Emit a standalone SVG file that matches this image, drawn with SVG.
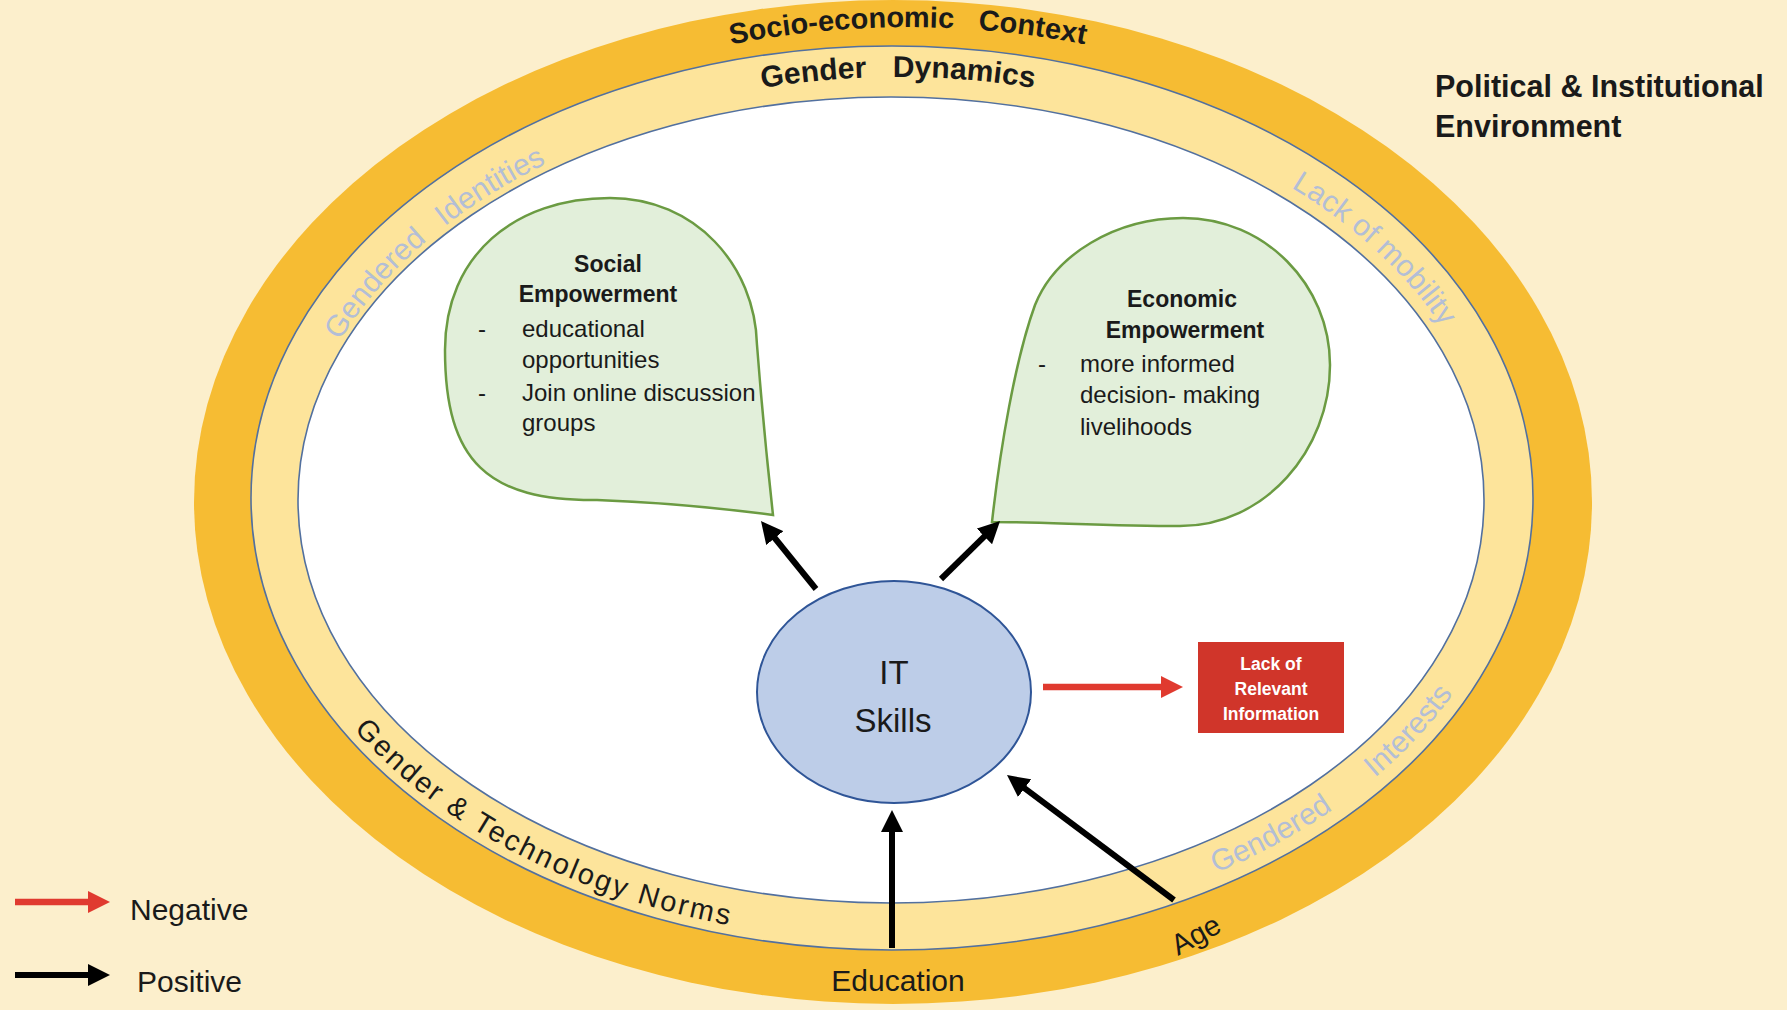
<svg xmlns="http://www.w3.org/2000/svg" width="1787" height="1010" viewBox="0 0 1787 1010">
<style>
.t{font-family:"Liberation Sans",Arial,sans-serif;fill:#1a1a1a}
.b{font-weight:bold}
.w{font-family:"Liberation Sans",Arial,sans-serif;font-weight:bold;fill:#fff;font-size:17.5px}
.band{font-family:"Liberation Sans",Arial,sans-serif;fill:#b3bed6;font-size:30px}
.bub{fill:#e2efda;stroke:#6b9b42;stroke-width:2.5}
.ring{stroke:#52709f;stroke-width:1.6}
.pos{stroke:#000;stroke-width:6;fill:none;marker-end:url(#ahB)}
.neg{stroke:#e03a2f;stroke-width:6.5;fill:none;marker-end:url(#ahR)}
</style>
<defs>
<marker id="ahB" markerUnits="userSpaceOnUse" markerWidth="22" markerHeight="22" viewBox="0 0 22 22" refX="4" refY="11" orient="auto"><path d="M0,0 L22,11 L0,22 z" fill="#000"/></marker>
<marker id="ahR" markerUnits="userSpaceOnUse" markerWidth="22" markerHeight="22" viewBox="0 0 22 22" refX="4" refY="11" orient="auto"><path d="M0,0 L22,11 L0,22 z" fill="#e03a2f"/></marker>
<path id="pSocio" d="M248,500 A660 473 0 0 1 1568,500"/>
<path id="pGD" d="M298,500 A600 423 0 0 1 1498,500"/>
<path id="pGI" d="M340,340.8 A598 411 0 0 1 687.5,112.8"/>
<path id="pLM" d="M1291,187.4 A604 415 0 0 1 1493.7,462.8"/>
<path id="pGInt" d="M1216,873 A627 437 0 0 0 1516.6,537.1"/>
<path id="pGTN" d="M354,729.5 A631 441 0 0 0 837,938.3"/>
</defs>
<rect width="1787" height="1010" fill="#fcefcc"/>
<g id="rings">
<ellipse cx="893" cy="502" rx="699" ry="502" fill="#f6bc33"/>
<ellipse class="ring" cx="892" cy="498" rx="641" ry="452" fill="#fde49b"/>
<ellipse class="ring" cx="891" cy="500" rx="593" ry="403" fill="#ffffff"/>
</g>
<g id="context-labels">
<text class="t b" font-size="29"><textPath href="#pSocio" startOffset="50%" text-anchor="middle">Socio-economic <tspan dx="16">Context</tspan></textPath></text>
<text class="t b" font-size="30"><textPath href="#pGD" startOffset="50%" text-anchor="middle">Gender <tspan dx="18">Dynamics</tspan></textPath></text>
<text class="band"><textPath href="#pGI">Gendered <tspan dx="14">Identities</tspan></textPath></text>
<text class="band"><textPath href="#pLM">Lack of mobility</textPath></text>
<text class="band"><textPath href="#pGInt">Gendered <tspan dx="44">Interests</tspan></textPath></text>
<text class="t" font-size="29"><textPath href="#pGTN" textLength="430">Gender &amp; Technology  Norms</textPath></text>
<text class="t b" x="1435" y="97" font-size="30.5">Political &amp; Institutional</text>
<text class="t b" x="1435" y="137" font-size="30.5">Environment</text>
<text class="t" x="898" y="991" font-size="30" text-anchor="middle">Education</text>
<text class="t" x="1178" y="956" font-size="29" transform="rotate(-29 1178 956)">Age</text>
</g>
<g id="social-empowerment">
<path class="bub" d="M610,198 C695,198 755,265 757,345 C762,410 768,470 773,515 C720,508 650,502 597,500 C488,501 445,462 445,350 C445,255 515,198 610,198 Z"/>
<text class="t b" x="608" y="272" font-size="23" text-anchor="middle">Social</text>
<text class="t b" x="598" y="302" font-size="23" text-anchor="middle">Empowerment</text>
<text class="t" x="478" y="337" font-size="24">-</text>
<text class="t" x="522" y="337" font-size="24">educational</text>
<text class="t" x="522" y="368" font-size="24">opportunities</text>
<text class="t" x="478" y="401" font-size="24">-</text>
<text class="t" x="522" y="401" font-size="24">Join online discussion</text>
<text class="t" x="522" y="431" font-size="24">groups</text>
</g>
<g id="economic-empowerment">
<path class="bub" d="M1183,218 C1265,218 1330,285 1330,365 C1330,450 1265,526 1180,526 C1110,526 1040,522 992,522 C1000,450 1015,360 1035,305 C1055,255 1115,218 1183,218 Z"/>
<text class="t b" x="1182" y="307" font-size="23" text-anchor="middle">Economic</text>
<text class="t b" x="1185" y="338" font-size="23" text-anchor="middle">Empowerment</text>
<text class="t" x="1038" y="372" font-size="24">-</text>
<text class="t" x="1080" y="372" font-size="24">more informed</text>
<text class="t" x="1080" y="403" font-size="24">decision- making</text>
<text class="t" x="1080" y="435" font-size="24">livelihoods</text>
</g>
<g id="it-skills">
<ellipse cx="894" cy="692" rx="137" ry="111" fill="#bdcde8" stroke="#2f5597" stroke-width="2"/>
<text class="t" x="894" y="684" font-size="33" text-anchor="middle">IT</text>
<text class="t" x="893" y="732" font-size="33" text-anchor="middle">Skills</text>
</g>
<g id="lack-relevant-information">
<rect x="1198" y="642" width="146" height="91" fill="#d0352a"/>
<text class="w" x="1271" y="670" text-anchor="middle">Lack of</text>
<text class="w" x="1271" y="695" text-anchor="middle">Relevant</text>
<text class="w" x="1271" y="720" text-anchor="middle">Information</text>
</g>
<g id="connectors">
<line class="pos" x1="816" y1="589" x2="772.3" y2="535"/>
<line class="pos" x1="941" y1="579" x2="987.2" y2="533.6"/>
<line class="pos" x1="892" y1="948" x2="892" y2="828"/>
<line class="pos" x1="1174" y1="900" x2="1021.4" y2="785.8"/>
<line class="neg" x1="1043" y1="687" x2="1165" y2="687"/>
</g>
<g id="legend">
<line class="neg" x1="15" y1="902" x2="92" y2="902"/>
<text class="t" x="130" y="920" font-size="30">Negative</text>
<line class="pos" x1="15" y1="975" x2="92" y2="975"/>
<text class="t" x="137" y="992" font-size="30">Positive</text>
</g>
</svg>
